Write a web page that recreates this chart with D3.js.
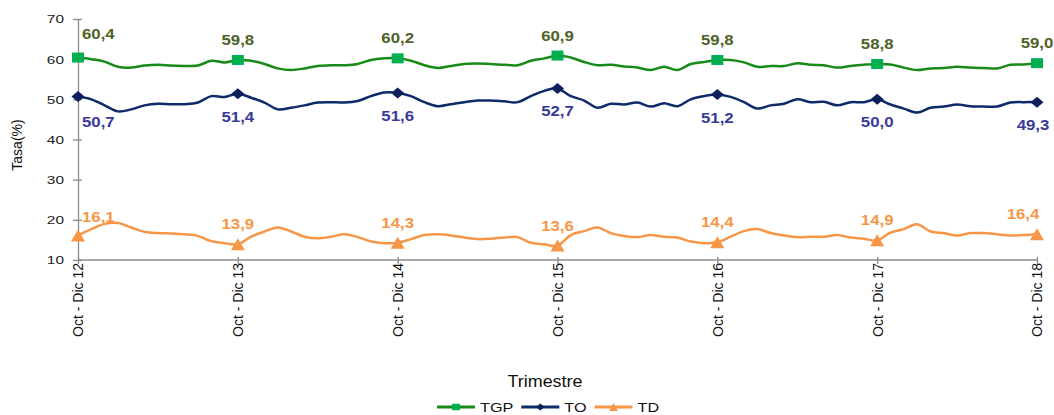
<!DOCTYPE html>
<html>
<head>
<meta charset="utf-8">
<title>Tasas TGP, TO y TD</title>
<style>
  body { margin: 0; background: #fff; }
  text { font-family: Arial, "Liberation Sans", sans-serif; }
  .axis path, .axis line { stroke: #8c8c8c; stroke-width: 1.3px; }
  .series { fill: none; stroke-width: 2.5px; stroke-linejoin: round; }
</style>
</head>
<body>
<div id="chart"></div>
<script src="https://cdnjs.cloudflare.com/ajax/libs/d3/7.8.5/d3.min.js"></script>
<script>
// rolling quarters, one per month, Oct-Dic 2012 .. Oct-Dic 2018
var monthNames = ["Ene", "Feb", "Mar", "Abr", "May", "Jun", "Jul", "Ago", "Sep", "Oct", "Nov", "Dic"];
var tickLabels = ["Oct - Dic 12", "Oct - Dic 13", "Oct - Dic 14", "Oct - Dic 15",
                  "Oct - Dic 16", "Oct - Dic 17", "Oct - Dic 18"];
var yTicks = [10, 20, 30, 40, 50, 60, 70];
var seriesNames = ["TGP", "TO", "TD"];

var tgp = [60.4, 60.0, 59.4, 58.1, 57.9, 58.4, 58.6, 58.4, 58.3, 58.4, 59.6, 59.2,
           59.8, 59.6, 58.8, 57.7, 57.3, 57.7, 58.3, 58.5, 58.5, 58.8, 59.8, 60.2,
           60.2, 59.6, 58.5, 57.8, 58.3, 58.8, 58.9, 58.8, 58.6, 58.5, 59.6, 60.2,
           60.9, 60.4, 59.3, 58.5, 58.6, 58.2, 57.9, 57.3, 58.1, 57.3, 58.8, 59.3,
           59.8, 59.8, 59.2, 58.1, 58.3, 58.3, 59.0, 58.6, 58.5, 57.9, 58.3, 58.6,
           58.8, 58.7, 57.9, 57.3, 57.7, 57.8, 58.1, 57.9, 57.8, 57.7, 58.6, 58.7,
           59.0];
var to  = [50.7, 50.0, 48.5, 47.0, 47.5, 48.5, 48.9, 48.8, 48.8, 49.2, 50.8, 50.6,
           51.4, 50.4, 49.2, 47.5, 47.9, 48.5, 49.2, 49.3, 49.2, 49.6, 50.8, 51.7,
           51.6, 50.8, 49.3, 48.3, 48.8, 49.3, 49.7, 49.7, 49.5, 49.3, 50.8, 52.1,
           52.7, 50.8, 49.7, 47.9, 48.9, 48.7, 49.2, 48.2, 49.0, 48.3, 50.0, 50.8,
           51.2, 50.6, 49.3, 47.7, 48.5, 48.9, 50.0, 49.3, 49.4, 48.5, 49.3, 49.3,
           50.0, 48.7, 47.7, 46.7, 47.9, 48.2, 48.7, 48.3, 48.2, 48.2, 49.2, 49.3,
           49.3];
var td  = [16.1, 17.7, 19.0, 19.2, 18.1, 17.0, 16.7, 16.6, 16.4, 16.0, 14.7, 14.2,
           13.9, 15.8, 17.1, 18.1, 17.1, 15.8, 15.4, 15.8, 16.4, 15.7, 14.6, 14.2,
           14.3, 15.2, 16.2, 16.4, 16.1, 15.6, 15.2, 15.3, 15.6, 15.7, 14.3, 13.9,
           13.6, 16.2, 17.2, 18.1, 16.7, 16.0, 15.7, 16.2, 15.8, 15.6, 14.6, 14.2,
           14.4, 15.8, 17.2, 17.7, 16.7, 16.1, 15.7, 15.8, 15.8, 16.2, 15.6, 15.3,
           14.9, 16.8, 17.7, 18.9, 17.1, 16.7, 16.1, 16.7, 16.7, 16.4, 16.1, 16.2,
           16.4];

var width = 1054, height = 415;

// period labels built from the month names
var periods = tgp.map(function (d, i) {
  var s = (9 + i) % 12, e = (11 + i) % 12, yy = 12 + Math.floor((11 + i) / 12);
  return monthNames[s] + " - " + monthNames[e] + " " + yy;
});

var series = [
  { name: "TGP", values: tgp, line: "#178a17", marker: "#00b050", label: "#4f6228",
    shape: "M-6,-5H6V5H-6Z", dy: -15, firstDy: -18.5, lastDx: 0 },
  { name: "TO", values: to, line: "#0e2a68", marker: "#0b1f5c", label: "#3a3a9a",
    shape: "M0,-5.5L6.5,0L0,5.5L-6.5,0Z", dy: 28, firstDy: 30, lastDx: -4 },
  { name: "TD", values: td, line: "#f79646", marker: "#f79646", label: "#f79646",
    shape: "M0,-6L7,6H-7Z", dy: -15, firstDy: -13, lastDx: -14 }
];

var fmt = d3.formatLocale({ decimal: ",", thousands: ".", grouping: [3], currency: ["", ""] }).format(".1f");

var svg = d3.select("#chart").append("svg")
    .attr("width", width).attr("height", height);

var x = d3.scalePoint().domain(periods).range([78, 1037]);
var y = d3.scaleLinear().domain([10, 70]).range([260, 19]);

// y axis
var yAxis = svg.append("g").attr("class", "axis")
    .attr("transform", "translate(78,0)")
    .call(d3.axisLeft(y).tickValues(yTicks).tickSizeOuter(0).tickSizeInner(5));
yAxis.selectAll(".tick line").attr("x1", 4);
yAxis.selectAll(".tick text")
    .attr("x", -10).attr("dy", "0.35em")
    .attr("transform", "scale(1.4,1)")
    .style("font-size", "11px").style("fill", "#222");

// x axis
var xAxis = svg.append("g").attr("class", "axis")
    .attr("transform", "translate(0,260)")
    .call(d3.axisBottom(x).tickValues(tickLabels).tickSizeOuter(0).tickSizeInner(4));
xAxis.selectAll(".tick line").attr("y1", -3);
xAxis.selectAll(".tick text")
    .attr("transform", "rotate(-90)")
    .attr("x", -3).attr("y", 0).attr("dy", "0.35em")
    .style("text-anchor", "end")
    .style("font-size", "14px").style("fill", "#111");
xAxis.selectAll("path.domain").attr("d", "M78,0H1037");

// axis titles
svg.append("text")
    .attr("transform", "translate(17,145) rotate(-90)")
    .attr("dy", "0.35em")
    .style("text-anchor", "middle").style("font-size", "14px").style("fill", "#111")
    .text("Tasa(%)");
svg.append("text")
    .attr("transform", "translate(545,387) scale(1.12,1)")
    .style("text-anchor", "middle").style("font-size", "16px").style("fill", "#111")
    .text("Trimestre");

// lines
var line = d3.line()
    .x(function (d, i) { return x(periods[i]); })
    .y(function (d) { return y(d); })
    .curve(d3.curveCardinal.tension(0));

var groups = svg.selectAll(".serie").data(series).enter().append("g").attr("class", "serie");

groups.append("path")
    .attr("class", "series")
    .attr("stroke", function (s) { return s.line; })
    .attr("d", function (s) { return line(s.values); });

// markers + labels on the Oct - Dic points
function yearPoints(s) {
  return s.values.map(function (v, i) { return { v: v, i: i, s: s }; })
    .filter(function (d) { return d.i % 12 === 0; });
}

groups.selectAll(".marker").data(yearPoints).enter().append("path")
    .attr("class", "marker")
    .attr("d", function (d) { return d.s.shape; })
    .attr("fill", function (d) { return d.s.marker; })
    .attr("transform", function (d) {
      return "translate(" + x(periods[d.i]) + "," + y(d.v) + ")";
    });

var last = tgp.length - 1;
groups.selectAll(".dlabel").data(yearPoints).enter().append("text")
    .attr("class", "dlabel")
    .attr("transform", function (d) {
      var px = x(periods[d.i]), py = y(d.v);
      var dx = d.i === 0 ? 4 : (d.i === last ? d.s.lastDx : 0);
      var dy = d.i === 0 ? d.s.firstDy : d.s.dy;
      return "translate(" + (px + dx) + "," + (py + dy) + ") scale(1.2,1)";
    })
    .style("text-anchor", function (d) { return d.i === 0 ? "start" : "middle"; })
    .style("font-size", "14px").style("font-weight", "bold")
    .style("fill", function (d) { return d.s.label; })
    .text(function (d) { return fmt(d.v); });

// legend
var legend = svg.append("g").attr("transform", "translate(437,407)");
var lx = 0;
series.forEach(function (s) {
  var item = legend.append("g").attr("transform", "translate(" + lx + ",0)");
  item.append("line").attr("x1", 0).attr("x2", 38).attr("y1", 0).attr("y2", 0)
      .attr("stroke", s.line).attr("stroke-width", 3);
  item.append("path").attr("d", s.shape).attr("fill", s.marker)
      .attr("transform", "translate(19,0) scale(0.65)");
  var t = item.append("text")
      .attr("transform", "translate(43,4.5) scale(1.2,1)")
      .style("font-size", "13.5px").style("fill", "#111")
      .text(s.name);
  lx += 43 + t.node().getComputedTextLength() * 1.2 + 8;
});
</script>
</body>
</html>
